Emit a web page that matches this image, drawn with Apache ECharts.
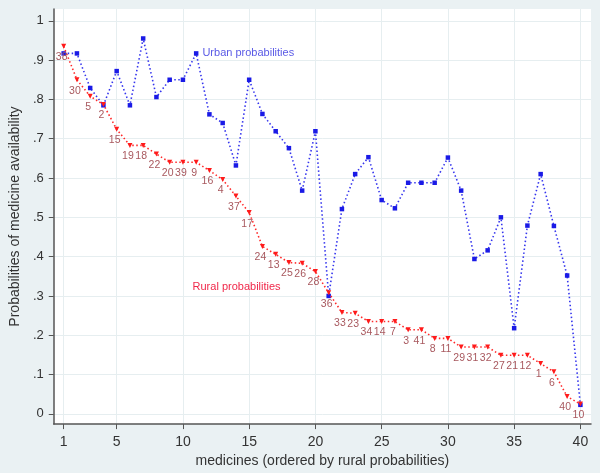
<!DOCTYPE html>
<html>
<head>
<meta charset="utf-8">
<script src="https://cdn.jsdelivr.net/npm/echarts@6/dist/echarts.min.js"></script>
<style>
  html, body { margin: 0; padding: 0; background: #eaf1f3; }
  #chart { width: 600px; height: 473px; }
</style>
</head>
<body>
<div id="chart"></div>
<script>
// medicine rank (ordered by rural probabilities)
const ranks = Array.from({ length: 40 }, (_, i) => i + 1);
// medicine ids shown next to rural points
const medicineIds = [38, 30, 5, 2, 15, 19, 18, 22, 20, 39, 9, 16, 4, 37, 17, 24, 13, 25, 26, 28,
  36, 33, 23, 34, 14, 7, 3, 41, 8, 11, 29, 31, 32, 27, 21, 12, 1, 6, 40, 10];
const rural = [0.935, 0.850, 0.808, 0.787, 0.724, 0.683, 0.683, 0.661, 0.640, 0.640,
  0.640, 0.619, 0.596, 0.554, 0.512, 0.426, 0.406, 0.385, 0.383, 0.362,
  0.308, 0.258, 0.256, 0.235, 0.235, 0.235, 0.214, 0.214, 0.192, 0.192,
  0.170, 0.170, 0.170, 0.149, 0.149, 0.149, 0.128, 0.107, 0.044, 0.025];
const urban = [0.917, 0.917, 0.829, 0.785, 0.872, 0.785, 0.955, 0.806, 0.850, 0.850,
  0.917, 0.762, 0.740, 0.632, 0.850, 0.763, 0.719, 0.676, 0.568, 0.719,
  0.300, 0.521, 0.610, 0.653, 0.544, 0.523, 0.588, 0.588, 0.588, 0.652,
  0.568, 0.394, 0.416, 0.500, 0.218, 0.479, 0.610, 0.478, 0.352, 0.023];
const xTicks = [1, 5, 10, 15, 20, 25, 30, 35, 40];
const yTicks = [0, 0.1, 0.2, 0.3, 0.4, 0.5, 0.6, 0.7, 0.8, 0.9, 1];
const urbanLabelRank = 11;
const ruralLabelCoord = [14.05, 0.323];

const chart = echarts.init(document.getElementById("chart"));
const font = "Liberation Sans, Arial, sans-serif";
const gridColor = "#e6eef0";

function fmtY(v) {
  if (v === 0) return "0";
  if (Math.abs(v - 1) < 1e-9) return "1";
  return "." + Math.round(v * 10);
}

const option = {
  backgroundColor: "#eaf1f3",
  animation: false,
  grid: { left: 41, right: 9, top: 9, bottom: 44, backgroundColor: "#fff", show: true, borderWidth: 0 },
  xAxis: {
    type: "value",
    min: 0.25,
    max: 40.8,
    name: "medicines (ordered by rural probabilities)",
    nameLocation: "middle",
    nameGap: 26,
    nameTextStyle: { fontFamily: font, fontSize: 14, color: "#333" },
    axisLine: { onZero: false, lineStyle: { color: "#555", width: 1.5 } },
    axisTick: { show: true, customValues: xTicks, length: 5, lineStyle: { color: "#555" } },
    axisLabel: {
      customValues: xTicks, margin: 11, fontFamily: font, fontSize: 14, color: "#333",
    },
    splitLine: { show: true, lineStyle: { color: gridColor, width: 1 } },
  },
  yAxis: {
    type: "value",
    min: -0.026,
    max: 1.03,
    splitNumber: 10,
    name: "Probabilities of medicine availability",
    nameLocation: "middle",
    nameGap: 29,
    nameTextStyle: { fontFamily: font, fontSize: 14, color: "#333" },
    axisLine: { show: true, onZero: false, lineStyle: { color: "#555", width: 1.5 } },
    axisTick: { show: true, customValues: yTicks, length: 5, lineStyle: { color: "#555" } },
    axisLabel: {
      customValues: yTicks, margin: 10, fontFamily: font, fontSize: 13, color: "#333",
      formatter: fmtY,
    },
    splitLine: { show: true, lineStyle: { color: gridColor, width: 1 } },
  },
  series: [
    {
      name: "Urban probabilities",
      type: "line",
      z: 3,
      data: ranks.map((r, i) => {
        const item = { value: [r, urban[i]] };
        if (r === urbanLabelRank) {
          item.label = {
            show: true, position: "right", distance: 4, formatter: "Urban probabilities",
            fontFamily: font, fontSize: 11, color: "#5a5ae6",
          };
        }
        return item;
      }),
      symbol: "rect",
      symbolSize: 4.5,
      itemStyle: { color: "#1a1ae6" },
      lineStyle: { color: "#3535ee", width: 1.6, type: [1.5, 2.5] },
      label: { show: false },
      markLine: {
        silent: true,
        symbol: "none",
        label: { show: false },
        lineStyle: { color: gridColor, width: 1, type: "solid" },
        data: [{ xAxis: xTicks[0] }],
        z: 0,
      },
    },
    {
      name: "Rural probabilities",
      type: "line",
      z: 4,
      data: ranks.map((r, i) => [r, rural[i]]),
      symbol: "triangle",
      symbolRotate: 180,
      symbolSize: 5,
      itemStyle: { color: "#ff1a1a" },
      lineStyle: { color: "#ff2a2a", width: 1.6, type: [1.5, 2.5] },
      label: {
        show: true,
        position: "bottom",
        distance: 3,
        offset: [-2, 0],
        fontFamily: font,
        fontSize: 10.5,
        color: "#a8585e",
        formatter: (p) => String(medicineIds[p.dataIndex]),
      },
      markPoint: {
        silent: true,
        symbol: "circle",
        symbolSize: 0,
        data: [{ coord: ruralLabelCoord }],
        label: {
          show: true, position: "inside", formatter: "Rural probabilities",
          fontFamily: font, fontSize: 11, color: "#f0284a",
        },
      },
    },
  ],
};

chart.setOption(option);
</script>
</body>
</html>
